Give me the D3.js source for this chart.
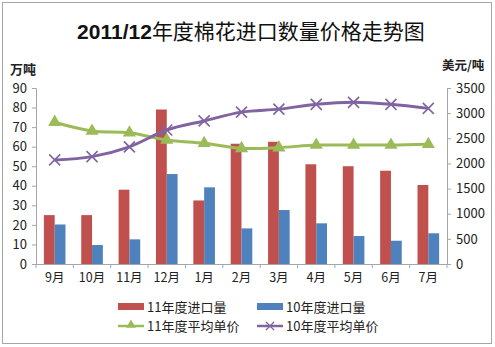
<!DOCTYPE html>
<html>
<head>
<meta charset="utf-8">
<script src="https://cdn.jsdelivr.net/npm/d3@7"></script>
<style>
  html, body { margin: 0; padding: 0; background: #fff; }
  svg { display: block; }
  text { font-family: "Noto Sans CJK SC", "Noto Sans", sans-serif; }
</style>
</head>
<body>
<svg id="chart" width="495" height="347"></svg>
<script>
// Monthly cotton import volume (10k tonnes) and average unit price (USD/tonne)
const months = ["9月", "10月", "11月", "12月", "1月", "2月", "3月", "4月", "5月", "6月", "7月"];
const import11 = [25, 25, 38, 79, 32.5, 61.5, 62.5, 51, 50, 47.7, 40.4];
const import10 = [20.2, 9.7, 12.6, 46, 39.2, 18.2, 27.6, 20.8, 14.3, 11.9, 15.7];
const price11 = [2820, 2645, 2610, 2465, 2400, 2300, 2315, 2365, 2365, 2365, 2380];
const price10 = [2070, 2135, 2330, 2665, 2845, 3020, 3080, 3175, 3215, 3175, 3095];
const leftTicks = [0, 10, 20, 30, 40, 50, 60, 70, 80, 90];
const rightTicks = [0, 500, 1000, 1500, 2000, 2500, 3000, 3500];

const svg = d3.select("#chart");
const plot = { left: 36, right: 447, top: 88, bottom: 264 };

// outer frame
svg.append("rect").attr("x", 2.5).attr("y", 2.5).attr("width", 489).attr("height", 341)
  .attr("fill", "#fff").attr("stroke", "#a6a6a6").attr("stroke-width", 1);

// title
svg.append("text").attr("x", 251).attr("y", 39).attr("text-anchor", "middle")
  .attr("font-size", 21).attr("fill", "#111")
  .call(t => {
    t.append("tspan").attr("font-family", "Liberation Sans, Arial, sans-serif").attr("font-weight", "bold").text("2011/12");
    t.append("tspan").attr("font-weight", "normal").text("年度棉花进口数量价格走势图");
  });

const x = d3.scaleBand().domain(months).range([plot.left, plot.right]).paddingInner(0).paddingOuter(0);
const yL = d3.scaleLinear().domain([0, 90]).range([plot.bottom, plot.top]);
const yR = d3.scaleLinear().domain([0, 3500]).range([plot.bottom, plot.top]);

const barW = 10.8;
const red = "#c0504d", blue = "#4f81bd", green = "#9bbb59", purple = "#8064a2";

// bars
const g = svg.append("g");
g.selectAll(".b11").data(import11).join("rect")
  .attr("x", (d, i) => x(months[i]) + x.bandwidth() / 2 - barW)
  .attr("y", d => yL(d)).attr("width", barW).attr("height", d => yL(0) - yL(d))
  .attr("fill", red);
g.selectAll(".b10").data(import10).join("rect")
  .attr("x", (d, i) => x(months[i]) + x.bandwidth() / 2)
  .attr("y", d => yL(d)).attr("width", barW).attr("height", d => yL(0) - yL(d))
  .attr("fill", blue);

// axes
const axisColor = "#a6a6a6";
const leftAxis = svg.append("g").attr("transform", `translate(${plot.left},0)`)
  .call(d3.axisLeft(yL).tickValues(leftTicks).tickFormat(d3.format("d")).tickSize(4).tickPadding(5));
const rightAxis = svg.append("g").attr("transform", `translate(${plot.right},0)`)
  .call(d3.axisRight(yR).tickValues(rightTicks).tickFormat(d3.format("d")).tickSize(4).tickPadding(5));
const bottomAxis = svg.append("g").attr("transform", `translate(0,${plot.bottom})`)
  .call(d3.axisBottom(x).tickSize(0).tickPadding(9));
// category separators on the x axis
bottomAxis.selectAll(".sep").data(d3.range(months.length + 1)).join("line")
  .attr("x1", i => plot.left + i * x.step()).attr("x2", i => plot.left + i * x.step())
  .attr("y1", 0).attr("y2", 4).attr("stroke", axisColor);

[leftAxis, rightAxis, bottomAxis].forEach(a => {
  a.selectAll("path").attr("stroke", axisColor);
  a.selectAll(".tick line").attr("stroke", axisColor);
  a.selectAll("text").attr("fill", "#222").attr("font-size", 13)
    .attr("font-family", "Liberation Sans, Arial, sans-serif");
});
bottomAxis.selectAll("text").attr("font-family", "Noto Sans CJK SC, sans-serif").attr("font-size", 12.5);

// axis unit labels
svg.append("text").attr("x", 10).attr("y", 74).attr("font-size", 13).attr("font-weight", "bold")
  .attr("fill", "#222").text("万吨");
svg.append("text").attr("x", 442).attr("y", 70).attr("font-size", 12.5).attr("font-weight", "bold")
  .attr("fill", "#222").text("美元/吨");

// price lines
const cx = i => x(months[i]) + x.bandwidth() / 2;
const line = d3.line().x((d, i) => cx(i)).y(d => yR(d)).curve(d3.curveCatmullRom.alpha(0.5));

svg.append("path").datum(price11).attr("d", line).attr("fill", "none")
  .attr("stroke", green).attr("stroke-width", 3);
svg.append("path").datum(price10).attr("d", line).attr("fill", "none")
  .attr("stroke", purple).attr("stroke-width", 3);

const tri = d3.symbol().type(d3.symbolTriangle).size(75);
svg.selectAll(".tri").data(price11).join("path")
  .attr("transform", (d, i) => `translate(${cx(i)},${yR(d)})`)
  .attr("d", tri).attr("fill", green);

const xs = 5.5;
svg.selectAll(".cross").data(price10).join("path")
  .attr("transform", (d, i) => `translate(${cx(i)},${yR(d)})`)
  .attr("d", `M${-xs},${-xs}L${xs},${xs}M${-xs},${xs}L${xs},${-xs}`)
  .attr("stroke", purple).attr("stroke-width", 1.6).attr("fill", "none");

// legend
const legend = svg.append("g").attr("font-size", 13).attr("fill", "#222");
const lg = [
  { x: 118, y: 307, label: "11年度进口量", kind: "bar", color: red },
  { x: 257, y: 307, label: "10年度进口量", kind: "bar", color: blue },
  { x: 118, y: 326, label: "11年度平均单价", kind: "tri", color: green },
  { x: 257, y: 326, label: "10年度平均单价", kind: "cross", color: purple }
];
lg.forEach(d => {
  if (d.kind === "bar") {
    legend.append("rect").attr("x", d.x).attr("y", d.y - 4).attr("width", 26).attr("height", 7).attr("fill", d.color);
  } else {
    legend.append("line").attr("x1", d.x).attr("x2", d.x + 26).attr("y1", d.y).attr("y2", d.y)
      .attr("stroke", d.color).attr("stroke-width", 2.5);
    if (d.kind === "tri") {
      legend.append("path").attr("transform", `translate(${d.x + 13},${d.y - 1})`)
        .attr("d", d3.symbol().type(d3.symbolTriangle).size(40)).attr("fill", d.color);
    } else {
      legend.append("path").attr("transform", `translate(${d.x + 13},${d.y})`)
        .attr("d", "M-4,-4L4,4M-4,4L4,-4").attr("stroke", d.color).attr("stroke-width", 1.3);
    }
  }
  legend.append("text").attr("x", d.x + 29).attr("y", d.y + 4.5).text(d.label);
});
</script>
</body>
</html>
